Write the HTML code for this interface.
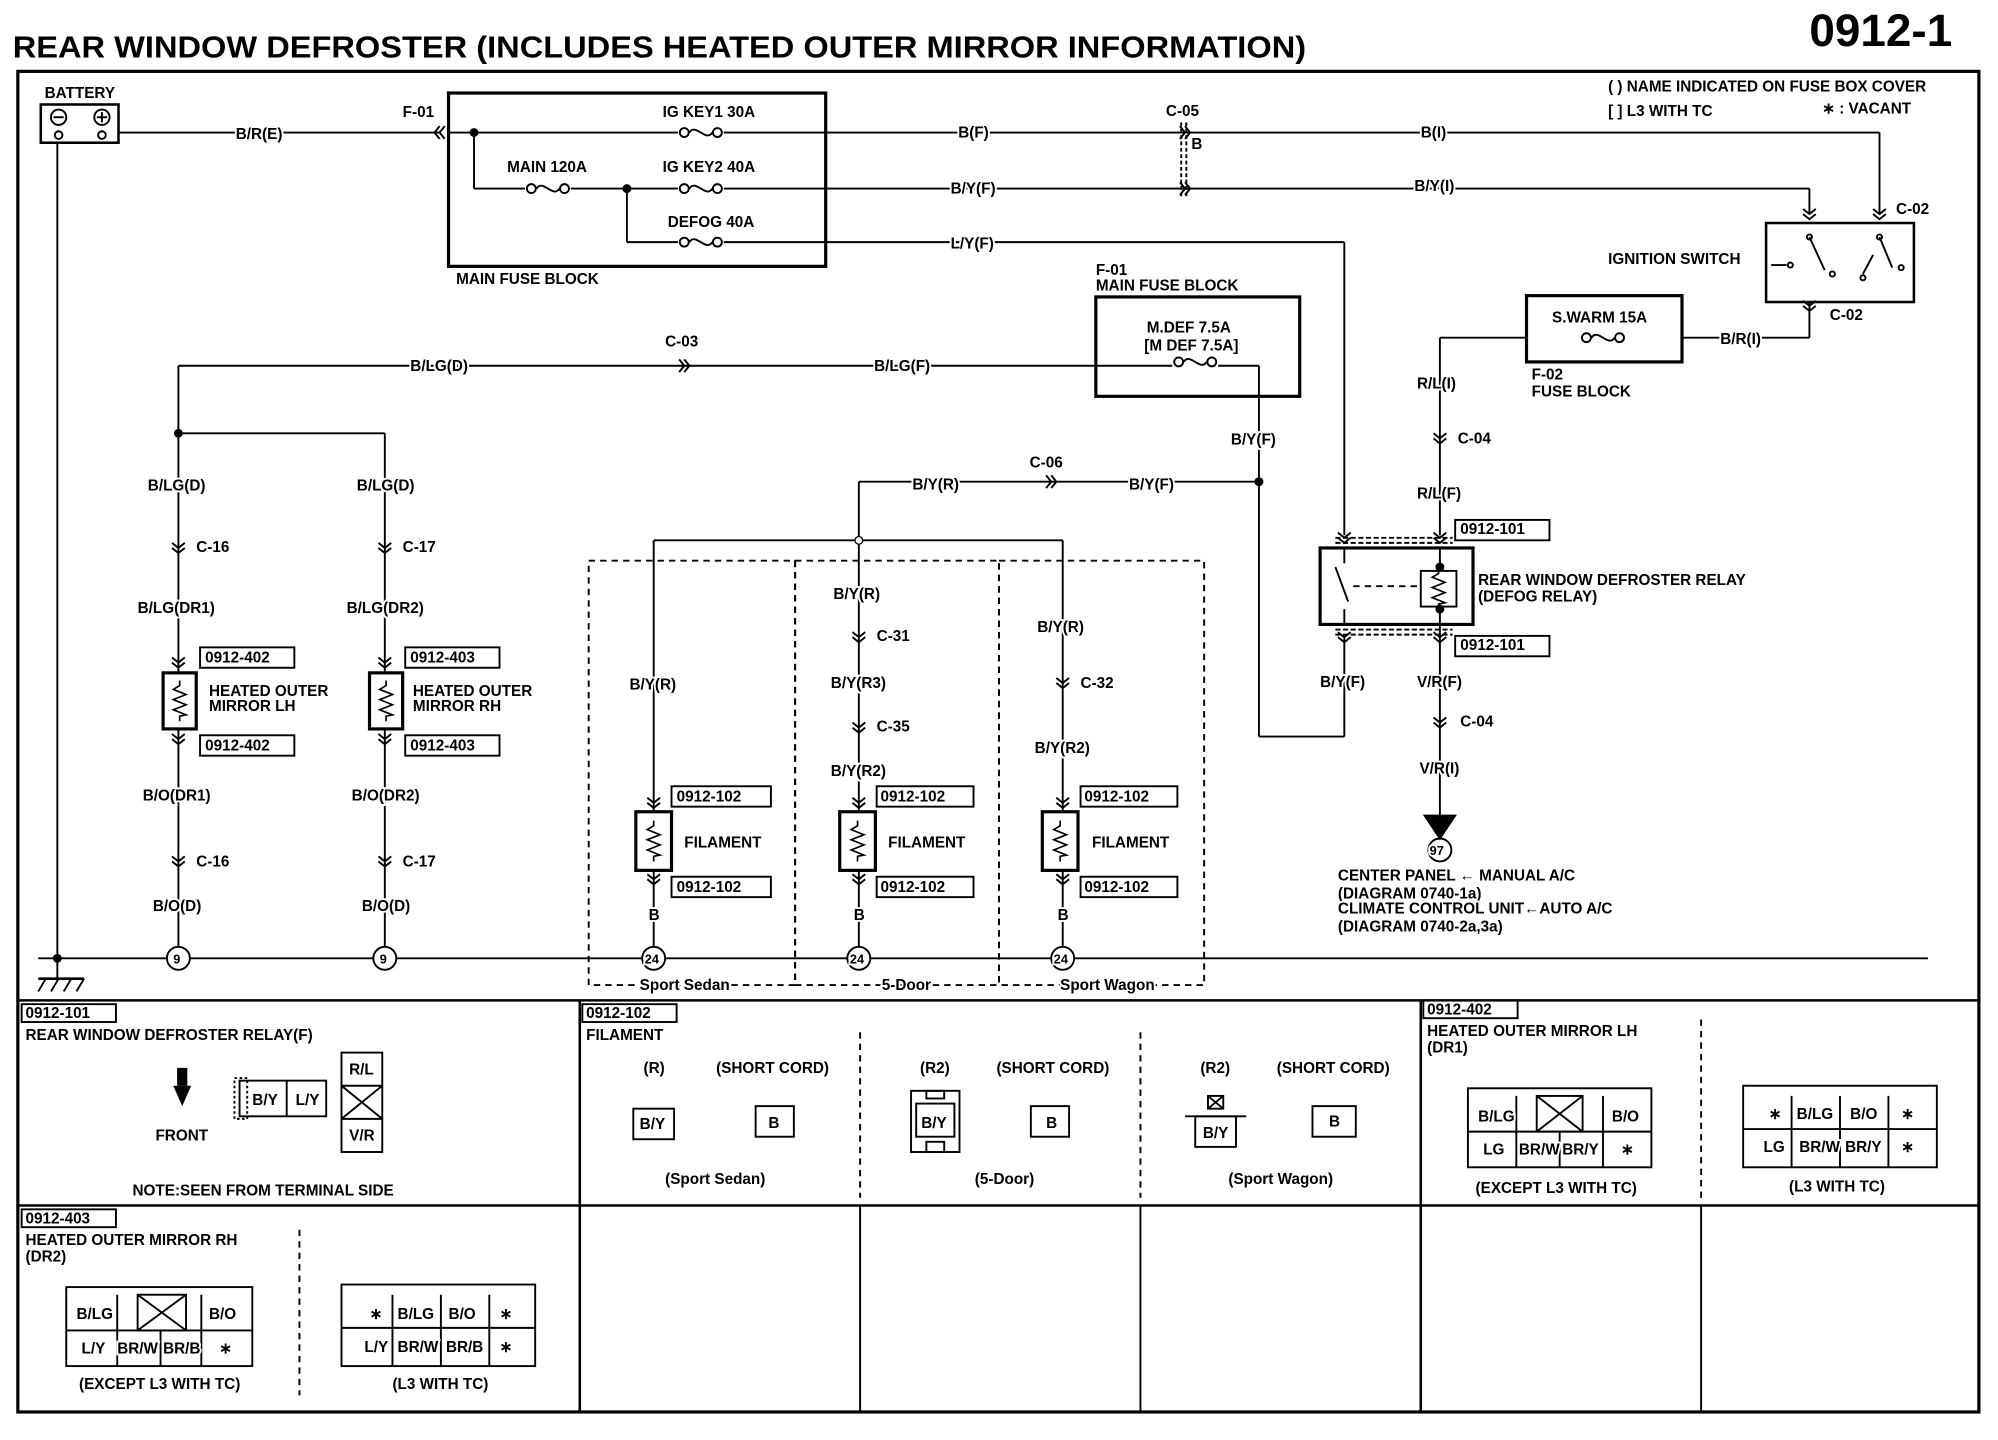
<!DOCTYPE html>
<html><head><meta charset="utf-8"><style>
html,body{margin:0;padding:0;background:#fff;}
svg{display:block;}
text{font-family:"Liberation Sans",sans-serif;font-weight:bold;fill:#000;stroke:#fff;stroke-width:3;paint-order:stroke;}
</style></head><body>
<svg width="1998" height="1440" viewBox="0 0 1568 1130" preserveAspectRatio="none" xmlns="http://www.w3.org/2000/svg">
<defs>
<path id="cv" d="M-5,-4 L0,0 L5,-4 M-5,0 L0,4 L5,0" fill="none" stroke="#000" stroke-width="1.5"/>
<g id="fu"><rect x="-18" y="-4" width="36" height="8" fill="#fff" stroke="none"/><circle cx="-13" cy="0" r="3.5" fill="#fff" stroke="#000" stroke-width="1.5"/><circle cx="13" cy="0" r="3.5" fill="#fff" stroke="#000" stroke-width="1.5"/><path d="M-9,0 C-4,-8 4,8 9,0" fill="none" stroke="#000" stroke-width="1.5"/></g>
<path id="zz" d="M0,-16 L0,-12 L-5,-9 L5,-5 L-5,-1 L5,3 L-5,7 L5,11 L0,12 L0,16" fill="none" stroke="#000" stroke-width="1.3"/>
</defs>
<g stroke="#000" fill="none" stroke-width="1.5">
<rect x="14" y="56" width="1539" height="1052" stroke-width="2.5"/>
<line x1="14" y1="785" x2="1553" y2="785" stroke-width="2"/>
<line x1="14" y1="946" x2="1553" y2="946" stroke-width="2"/>
<line x1="455" y1="785" x2="455" y2="1108" stroke-width="2"/>
<line x1="1115" y1="785" x2="1115" y2="1108" stroke-width="2"/>
<line x1="675" y1="946" x2="675" y2="1108"/>
<line x1="895" y1="946" x2="895" y2="1108"/>
<line x1="1335" y1="946" x2="1335" y2="1108"/>
<line x1="675" y1="810" x2="675" y2="940" stroke-dasharray="5,4"/>
<line x1="895" y1="810" x2="895" y2="940" stroke-dasharray="5,4"/>
<line x1="1335" y1="800" x2="1335" y2="940" stroke-dasharray="5,4"/>
<line x1="235" y1="965" x2="235" y2="1095" stroke-dasharray="5,4"/>
<!-- battery -->
<rect x="32" y="82" width="61" height="30" stroke-width="2"/>
<circle cx="46" cy="92" r="6"/><circle cx="80" cy="92" r="6"/>
<line x1="42" y1="92" x2="50" y2="92"/><line x1="76" y1="92" x2="84" y2="92"/><line x1="80" y1="88" x2="80" y2="96"/>
<circle cx="46" cy="106" r="3"/><circle cx="80" cy="106" r="3"/>
<line x1="45" y1="112" x2="45" y2="752"/>
<line x1="93" y1="104" x2="345" y2="104"/>
<line x1="30" y1="752" x2="1513" y2="752"/>
<line x1="45" y1="752" x2="45" y2="768"/>
<line x1="30" y1="768" x2="66" y2="768" stroke-width="2"/>
<line x1="36" y1="768" x2="30" y2="778"/><line x1="46" y1="768" x2="40" y2="778"/><line x1="56" y1="768" x2="50" y2="778"/><line x1="66" y1="768" x2="60" y2="778"/>
<!-- main fuse block -->
<rect x="352" y="73" width="296" height="136" stroke-width="2.5"/>
<line x1="352" y1="104" x2="1475" y2="104"/>
<line x1="372" y1="104" x2="372" y2="148"/>
<line x1="372" y1="148" x2="1420" y2="148"/>
<line x1="492" y1="148" x2="492" y2="190"/>
<line x1="492" y1="190" x2="1055" y2="190"/>
<line x1="1475" y1="104" x2="1475" y2="168"/>
<line x1="1420" y1="148" x2="1420" y2="168"/>
<line x1="1055" y1="190" x2="1055" y2="420"/>
<line x1="927" y1="96" x2="927" y2="156" stroke-dasharray="3,2"/><line x1="931" y1="96" x2="931" y2="156" stroke-dasharray="3,2"/>
<!-- ign switch -->
<rect x="1386" y="175" width="116" height="62" stroke-width="2"/>
<line x1="1390" y1="208" x2="1402" y2="208"/><circle cx="1405" cy="208" r="2"/>
<line x1="1420" y1="186" x2="1432" y2="212"/><line x1="1475" y1="186" x2="1485" y2="210"/><line x1="1470" y1="200" x2="1462" y2="215"/>
<circle cx="1420" cy="186" r="2"/><circle cx="1475" cy="186" r="2"/><circle cx="1438" cy="215" r="2"/><circle cx="1462" cy="218" r="2"/><circle cx="1492" cy="210" r="2"/>
<line x1="1420" y1="237" x2="1420" y2="265"/>
<line x1="1320" y1="265" x2="1420" y2="265"/>
<rect x="1198" y="232" width="122" height="52" stroke-width="2.5"/>
<line x1="1130" y1="265" x2="1198" y2="265"/>
<line x1="1130" y1="265" x2="1130" y2="420"/>
<!-- mdef -->
<rect x="860" y="233" width="160" height="78" stroke-width="2.5"/>
<line x1="140" y1="287" x2="988" y2="287"/>
<line x1="988" y1="287" x2="988" y2="578"/>
<line x1="988" y1="578" x2="1055" y2="578"/>
<line x1="1055" y1="500" x2="1055" y2="578"/>
<line x1="140" y1="287" x2="140" y2="752"/>
<line x1="140" y1="340" x2="302" y2="340"/>
<line x1="302" y1="340" x2="302" y2="752"/>
<line x1="674" y1="378" x2="988" y2="378"/>
<line x1="674" y1="378" x2="674" y2="752"/>
<line x1="513" y1="424" x2="834" y2="424"/>
<line x1="513" y1="424" x2="513" y2="752"/>
<line x1="834" y1="424" x2="834" y2="752"/>
<!-- relay -->
<rect x="1036" y="430" width="120" height="60" stroke-width="2.5"/>
<line x1="1048" y1="422" x2="1140" y2="422" stroke-dasharray="4,2"/><line x1="1048" y1="426" x2="1140" y2="426" stroke-dasharray="4,2"/>
<line x1="1048" y1="494" x2="1140" y2="494" stroke-dasharray="4,2"/><line x1="1048" y1="498" x2="1140" y2="498" stroke-dasharray="4,2"/>
<line x1="1055" y1="430" x2="1055" y2="442"/><line x1="1055" y1="478" x2="1055" y2="490"/>
<line x1="1048" y1="445" x2="1058" y2="472"/>
<line x1="1130" y1="430" x2="1130" y2="490"/>
<line x1="1130" y1="490" x2="1130" y2="640"/>
<polygon points="1118,640 1142,640 1130,658" fill="#000"/>
<circle cx="1130" cy="667" r="9"/>
<rect x="1115" y="448" width="28" height="28" fill="#fff"/>
<use href="#zz" x="1129" y="462"/>
<line x1="1062" y1="460" x2="1112" y2="460" stroke-dasharray="5,4"/>
<!-- dashed groups -->
<rect x="462" y="440" width="162" height="333" stroke-dasharray="5,4"/>
<rect x="624" y="440" width="160" height="333" stroke-dasharray="5,4"/>
<rect x="784" y="440" width="161" height="333" stroke-dasharray="5,4"/>
<!-- components -->
<rect x="128" y="528" width="26" height="44" stroke-width="2.5" fill="#fff"/>
<rect x="290" y="528" width="26" height="44" stroke-width="2.5" fill="#fff"/>
<rect x="499" y="637" width="28" height="46" stroke-width="2.5" fill="#fff"/>
<rect x="659" y="637" width="28" height="46" stroke-width="2.5" fill="#fff"/>
<rect x="818" y="637" width="28" height="46" stroke-width="2.5" fill="#fff"/>
<use href="#zz" x="141" y="550"/><use href="#zz" x="303" y="550"/>
<use href="#zz" x="513" y="660"/><use href="#zz" x="673" y="660"/><use href="#zz" x="832" y="660"/>
<rect x="157" y="508" width="74" height="16"/><rect x="157" y="577" width="74" height="16"/>
<rect x="318" y="508" width="74" height="16"/><rect x="318" y="577" width="74" height="16"/>
<rect x="527" y="617" width="78" height="16"/><rect x="527" y="688" width="78" height="16"/>
<rect x="688" y="617" width="76" height="16"/><rect x="688" y="688" width="76" height="16"/>
<rect x="848" y="617" width="76" height="16"/><rect x="848" y="688" width="76" height="16"/>
<rect x="1142" y="408" width="74" height="16"/><rect x="1142" y="499" width="74" height="16"/>
<circle cx="140" cy="752" r="9" fill="#fff"/><circle cx="302" cy="752" r="9" fill="#fff"/>
<circle cx="513" cy="752" r="9" fill="#fff"/><circle cx="674" cy="752" r="9" fill="#fff"/><circle cx="834" cy="752" r="9" fill="#fff"/>
<!-- table labels boxes -->
<rect x="17" y="788" width="74" height="14"/><rect x="457" y="788" width="74" height="14"/>
<rect x="1117" y="785" width="74" height="14"/><rect x="17" y="949" width="74" height="14"/>
<!-- connectors -->
<rect x="188" y="848" width="68" height="28"/><rect x="268" y="826" width="32" height="78"/>
<rect x="184" y="846" width="10" height="32" stroke-dasharray="2,2"/>
<line x1="268" y1="852" x2="300" y2="852"/><line x1="268" y1="878" x2="300" y2="878"/>
<line x1="268" y1="852" x2="300" y2="878"/><line x1="300" y1="852" x2="268" y2="878"/>
<line x1="225" y1="848" x2="225" y2="876"/>
<rect x="497" y="870" width="32" height="24"/><rect x="593" y="868" width="30" height="24"/>
<rect x="715" y="856" width="38" height="48"/><rect x="719" y="866" width="30" height="26"/><rect x="727" y="896" width="14" height="8"/><rect x="727" y="856" width="14" height="6"/>
<rect x="809" y="868" width="30" height="24"/>
<rect x="938" y="876" width="32" height="24"/><rect x="948" y="860" width="12" height="10"/><line x1="930" y1="876" x2="978" y2="876"/><line x1="948" y1="860" x2="960" y2="870"/><line x1="960" y1="860" x2="948" y2="870"/>
<rect x="1030" y="868" width="34" height="24"/>
<rect x="1152" y="854" width="144" height="62"/><line x1="1152" y1="888" x2="1296" y2="888"/>
<rect x="1206" y="860" width="36" height="28"/><line x1="1206" y1="860" x2="1242" y2="888"/><line x1="1242" y1="860" x2="1206" y2="888"/>
<line x1="1190" y1="860" x2="1190" y2="916"/><line x1="1258" y1="860" x2="1258" y2="916"/><line x1="1224" y1="888" x2="1224" y2="916"/>
<rect x="1368" y="852" width="152" height="64"/><line x1="1368" y1="886" x2="1520" y2="886"/>
<line x1="1406" y1="860" x2="1406" y2="916"/><line x1="1444" y1="860" x2="1444" y2="916"/><line x1="1482" y1="860" x2="1482" y2="916"/>
<rect x="52" y="1010" width="146" height="62"/><line x1="52" y1="1044" x2="198" y2="1044"/>
<rect x="108" y="1016" width="38" height="28"/><line x1="108" y1="1016" x2="146" y2="1044"/><line x1="146" y1="1016" x2="108" y2="1044"/>
<line x1="92" y1="1016" x2="92" y2="1072"/><line x1="158" y1="1016" x2="158" y2="1072"/><line x1="126" y1="1044" x2="126" y2="1072"/>
<rect x="268" y="1008" width="152" height="64"/><line x1="268" y1="1042" x2="420" y2="1042"/>
<line x1="308" y1="1016" x2="308" y2="1072"/><line x1="346" y1="1016" x2="346" y2="1072"/><line x1="384" y1="1016" x2="384" y2="1072"/>
</g>
<!-- fuses -->
<use href="#fu" x="430" y="148"/><use href="#fu" x="550" y="148"/><use href="#fu" x="550" y="104"/><use href="#fu" x="550" y="190"/>
<use href="#fu" x="938" y="284"/><use href="#fu" x="1258" y="265"/>
<!-- chevrons (vertical, pointing down) -->
<g>
<use href="#cv" x="140" y="430"/><use href="#cv" x="302" y="430"/>
<use href="#cv" x="140" y="676"/><use href="#cv" x="302" y="676"/>
<use href="#cv" x="674" y="500"/><use href="#cv" x="674" y="571"/><use href="#cv" x="834" y="536"/>
<use href="#cv" x="1130" y="344"/><use href="#cv" x="1130" y="567"/>
<use href="#cv" x="1420" y="168"/><use href="#cv" x="1475" y="168"/><use href="#cv" x="1420" y="240"/>
<use href="#cv" x="140" y="520"/><use href="#cv" x="140" y="580"/><use href="#cv" x="302" y="520"/><use href="#cv" x="302" y="580"/>
<use href="#cv" x="513" y="630"/><use href="#cv" x="513" y="690"/><use href="#cv" x="674" y="630"/><use href="#cv" x="674" y="690"/>
<use href="#cv" x="834" y="630"/><use href="#cv" x="834" y="690"/>
<use href="#cv" x="1055" y="422"/><use href="#cv" x="1130" y="422"/><use href="#cv" x="1055" y="500"/><use href="#cv" x="1130" y="500"/>
<use href="#cv" transform="translate(345,104) rotate(90)"/>
<use href="#cv" transform="translate(930,104) rotate(-90)"/><use href="#cv" transform="translate(930,148) rotate(-90)"/>
<use href="#cv" transform="translate(537,287) rotate(-90)"/><use href="#cv" transform="translate(825,378) rotate(-90)"/>
</g>
<g fill="#fff" stroke="#000">
<circle cx="372" cy="104" r="3" fill="#000"/><circle cx="492" cy="148" r="3" fill="#000"/>
<circle cx="140" cy="340" r="3" fill="#000"/><circle cx="988" cy="378" r="3" fill="#000"/>
<circle cx="674" cy="424" r="3"/><circle cx="45" cy="752" r="3" fill="#000"/>
<circle cx="1130" cy="445" r="3" fill="#000"/><circle cx="1130" cy="478" r="3" fill="#000"/>
</g>
<polygon points="136,852 150,852 143,868" fill="#000"/><rect x="139" y="838" width="8" height="14" fill="#000"/>
<text x="10" y="45" font-size="24" textLength="1015" lengthAdjust="spacingAndGlyphs">REAR WINDOW DEFROSTER (INCLUDES HEATED OUTER MIRROR INFORMATION)</text>
<text x="1420" y="36" font-size="36">0912-1</text>
<g font-size="12">
<text x="35" y="77">BATTERY</text>
<text x="185" y="109">B/R(E)</text><text x="316" y="92">F-01</text>
<text x="520" y="92">IG KEY1 30A</text><text x="398" y="135">MAIN 120A</text>
<text x="520" y="135">IG KEY2 40A</text><text x="524" y="178">DEFOG 40A</text>
<text x="358" y="223">MAIN FUSE BLOCK</text>
<text x="752" y="108">B(F)</text><text x="915" y="91">C-05</text><text x="935" y="117">B</text><text x="1115" y="108">B(I)</text>
<text x="746" y="152">B/Y(F)</text><text x="1110" y="150">B/Y(I)</text><text x="746" y="195">L/Y(F)</text>
<text x="1262" y="72">( ) NAME INDICATED ON FUSE BOX COVER</text>
<text x="1262" y="91">[ ] L3 WITH TC</text><text x="1430" y="89">∗ : VACANT</text>
<text x="1488" y="168">C-02</text><text x="1262" y="207">IGNITION SWITCH</text><text x="1436" y="251">C-02</text>
<text x="1218" y="253">S.WARM 15A</text><text x="1350" y="270">B/R(I)</text>
<text x="1202" y="298">F-02</text><text x="1202" y="311">FUSE BLOCK</text>
<text x="860" y="216">F-01</text><text x="860" y="228">MAIN FUSE BLOCK</text>
<text x="900" y="261">M.DEF 7.5A</text><text x="898" y="275">[M DEF 7.5A]</text>
<text x="522" y="272">C-03</text><text x="322" y="291">B/LG(D)</text><text x="686" y="291">B/LG(F)</text>
<text x="1112" y="305">R/L(I)</text><text x="1144" y="348">C-04</text><text x="1112" y="391">R/L(F)</text>
<text x="966" y="349">B/Y(F)</text><text x="808" y="367">C-06</text>
<text x="716" y="384">B/Y(R)</text><text x="886" y="384">B/Y(F)</text>
<text x="1146" y="419">0912-101</text><text x="1146" y="510">0912-101</text>
<text x="1160" y="459">REAR WINDOW DEFROSTER RELAY</text><text x="1160" y="472">(DEFOG RELAY)</text>
<text x="1036" y="539">B/Y(F)</text><text x="1112" y="539">V/R(F)</text><text x="1146" y="570">C-04</text>
<text x="1114" y="607">V/R(I)</text><text x="1122" y="671" font-size="10">97</text>
<text x="1050" y="691">CENTER PANEL ← MANUAL A/C</text><text x="1050" y="705">(DIAGRAM 0740-1a)</text>
<text x="1050" y="717">CLIMATE CONTROL UNIT←AUTO A/C</text><text x="1050" y="731">(DIAGRAM 0740-2a,3a)</text>
<text x="116" y="385">B/LG(D)</text><text x="280" y="385">B/LG(D)</text>
<text x="154" y="433">C-16</text><text x="316" y="433">C-17</text>
<text x="108" y="481">B/LG(DR1)</text><text x="272" y="481">B/LG(DR2)</text>
<text x="161" y="520">0912-402</text><text x="322" y="520">0912-403</text>
<text x="164" y="546">HEATED OUTER</text><text x="164" y="558">MIRROR LH</text>
<text x="324" y="546">HEATED OUTER</text><text x="324" y="558">MIRROR RH</text>
<text x="161" y="589">0912-402</text><text x="322" y="589">0912-403</text>
<text x="112" y="628">B/O(DR1)</text><text x="276" y="628">B/O(DR2)</text>
<text x="154" y="680">C-16</text><text x="316" y="680">C-17</text>
<text x="120" y="715">B/O(D)</text><text x="284" y="715">B/O(D)</text>
<text x="494" y="541">B/Y(R)</text><text x="654" y="470">B/Y(R)</text><text x="688" y="503">C-31</text>
<text x="652" y="540">B/Y(R3)</text><text x="688" y="574">C-35</text><text x="652" y="609">B/Y(R2)</text>
<text x="814" y="496">B/Y(R)</text><text x="848" y="540">C-32</text><text x="812" y="591">B/Y(R2)</text>
<text x="531" y="629">0912-102</text><text x="691" y="629">0912-102</text><text x="851" y="629">0912-102</text>
<text x="537" y="665">FILAMENT</text><text x="697" y="665">FILAMENT</text><text x="857" y="665">FILAMENT</text>
<text x="531" y="700">0912-102</text><text x="691" y="700">0912-102</text><text x="851" y="700">0912-102</text>
<text x="509" y="722">B</text><text x="670" y="722">B</text><text x="830" y="722">B</text>
<text x="136" y="756" font-size="10">9</text><text x="298" y="756" font-size="10">9</text>
<text x="506" y="756" font-size="10">24</text><text x="667" y="756" font-size="10">24</text><text x="827" y="756" font-size="10">24</text>
<text x="502" y="777">Sport Sedan</text><text x="692" y="777">5-Door</text><text x="832" y="777">Sport Wagon</text>
<text x="20" y="799">0912-101</text><text x="20" y="816">REAR WINDOW DEFROSTER RELAY(F)</text>
<text x="122" y="895">FRONT</text><text x="198" y="867">B/Y</text><text x="232" y="867">L/Y</text>
<text x="274" y="843">R/L</text><text x="274" y="895">V/R</text>
<text x="104" y="938">NOTE:SEEN FROM TERMINAL SIDE</text>
<text x="460" y="799">0912-102</text><text x="460" y="816">FILAMENT</text>
<text x="505" y="842">(R)</text><text x="562" y="842">(SHORT CORD)</text>
<text x="722" y="842">(R2)</text><text x="782" y="842">(SHORT CORD)</text>
<text x="942" y="842">(R2)</text><text x="1002" y="842">(SHORT CORD)</text>
<text x="502" y="886">B/Y</text><text x="603" y="885">B</text><text x="723" y="885">B/Y</text><text x="821" y="885">B</text>
<text x="944" y="893">B/Y</text><text x="1043" y="884">B</text>
<text x="522" y="929">(Sport Sedan)</text><text x="765" y="929">(5-Door)</text><text x="964" y="929">(Sport Wagon)</text>
<text x="1120" y="796">0912-402</text><text x="1120" y="813">HEATED OUTER MIRROR LH</text><text x="1120" y="826">(DR1)</text>
<text x="1160" y="880">B/LG</text><text x="1265" y="880">B/O</text>
<text x="1164" y="906">LG</text><text x="1192" y="906">BR/W</text><text x="1226" y="906">BR/Y</text><text x="1272" y="906">∗</text>
<text x="1158" y="936">(EXCEPT L3 WITH TC)</text>
<text x="1388" y="878">∗</text><text x="1410" y="878">B/LG</text><text x="1452" y="878">B/O</text><text x="1492" y="878">∗</text>
<text x="1384" y="904">LG</text><text x="1412" y="904">BR/W</text><text x="1448" y="904">BR/Y</text><text x="1492" y="904">∗</text>
<text x="1404" y="935">(L3 WITH TC)</text>
<text x="20" y="960">0912-403</text><text x="20" y="977">HEATED OUTER MIRROR RH</text><text x="20" y="990">(DR2)</text>
<text x="60" y="1035">B/LG</text><text x="164" y="1035">B/O</text>
<text x="64" y="1062">L/Y</text><text x="92" y="1062">BR/W</text><text x="128" y="1062">BR/B</text><text x="172" y="1062">∗</text>
<text x="62" y="1090">(EXCEPT L3 WITH TC)</text>
<text x="290" y="1035">∗</text><text x="312" y="1035">B/LG</text><text x="352" y="1035">B/O</text><text x="392" y="1035">∗</text>
<text x="286" y="1061">L/Y</text><text x="312" y="1061">BR/W</text><text x="350" y="1061">BR/B</text><text x="392" y="1061">∗</text>
<text x="308" y="1090">(L3 WITH TC)</text>
</g>
</svg>
</body></html>
